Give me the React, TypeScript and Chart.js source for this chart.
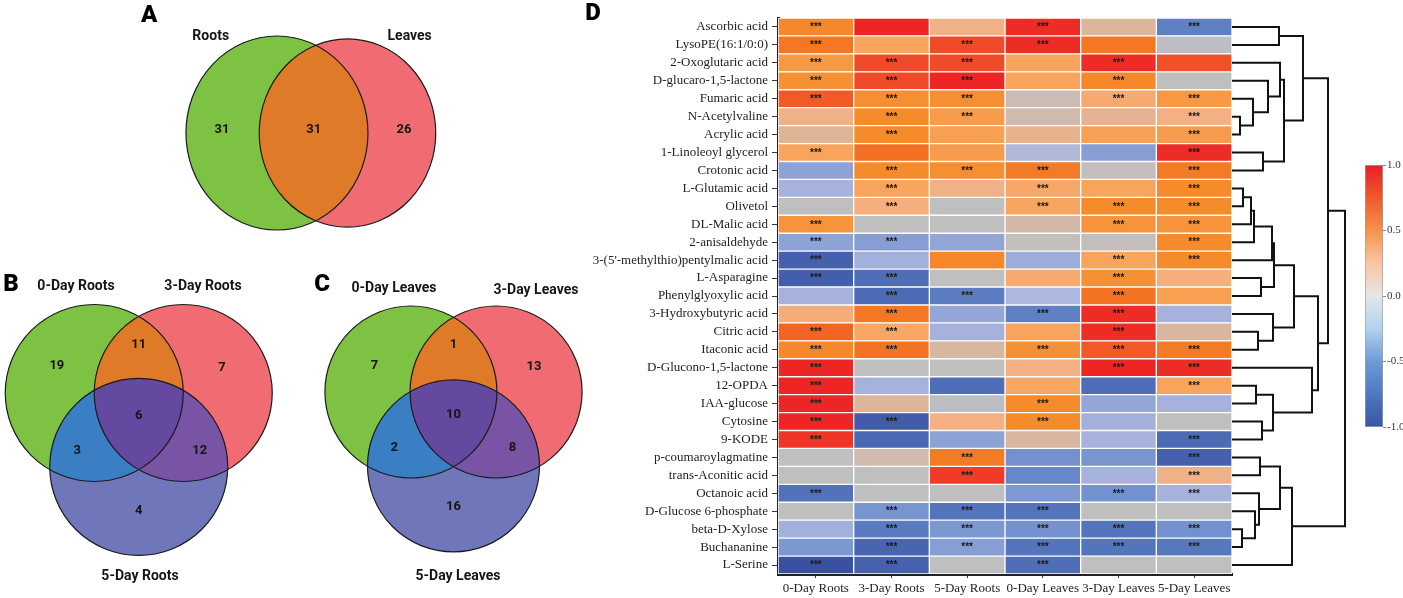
import React, { useEffect, useRef } from "react";
import { Chart, registerables } from "chart.js";
Chart.register(...registerables);

// ---------------- Venn data ----------------
const vennASets = ["Roots", "Leaves"];
const vennACounts = [31, 31, 26]; // Roots only, both, Leaves only
const vennBSets = ["0-Day Roots", "3-Day Roots", "5-Day Roots"];
const vennBCounts = [19, 11, 7, 6, 3, 12, 4]; // 0 only, 0∩3, 3 only, all, 0∩5, 3∩5, 5 only
const vennCSets = ["0-Day Leaves", "3-Day Leaves", "5-Day Leaves"];
const vennCCounts = [7, 1, 13, 10, 2, 8, 16];

// ---------------- Heatmap data ----------------
const metabolites = [
  "Ascorbic acid", "LysoPE(16:1/0:0)", "2-Oxoglutaric acid", "D-glucaro-1,5-lactone", "Fumaric acid",
  "N-Acetylvaline", "Acrylic acid", "1-Linoleoyl glycerol", "Crotonic acid", "L-Glutamic acid",
  "Olivetol", "DL-Malic acid", "2-anisaldehyde", "3-(5'-methylthio)pentylmalic acid", "L-Asparagine",
  "Phenylglyoxylic acid", "3-Hydroxybutyric acid", "Citric acid", "Itaconic acid", "D-Glucono-1,5-lactone",
  "12-OPDA", "IAA-glucose", "Cytosine", "9-KODE", "p-coumaroylagmatine",
  "trans-Aconitic acid", "Octanoic acid", "D-Glucose 6-phosphate", "beta-D-Xylose", "Buchananine", "L-Serine",
];
const conditions = ["0-Day Roots", "3-Day Roots", "5-Day Roots", "0-Day Leaves", "3-Day Leaves", "5-Day Leaves"];

const z0DayRoots = [0.62, 0.7, 0.52, 0.57, 0.8, 0.32, 0.22, 0.45, -0.45, -0.3, 0, 0.55, -0.45, -0.88, -0.9, -0.3, 0.38, 0.77, 0.62, 0.97, 0.97, 0.97, 0.97, 0.92, 0, 0, -0.78, 0, -0.32, -0.53, -1.0];
const z3DayRoots = [0.97, 0.45, 0.85, 0.85, 0.58, 0.6, 0.6, 0.73, 0.6, 0.45, 0.37, 0, -0.48, -0.32, -0.8, -0.82, 0.7, 0.43, 0.72, 0, -0.3, 0.2, -0.93, -0.83, 0.12, 0, 0, -0.55, -0.73, -0.85, -0.87];
const z5DayRoots = [0.33, 0.85, 0.85, 0.97, 0.58, 0.5, 0.48, 0.5, 0.58, 0.33, 0, 0, -0.43, 0.62, 0, -0.72, -0.42, -0.3, 0.17, 0, -0.8, -0.03, 0.35, -0.45, 0.68, 0.9, 0, -0.77, -0.53, -0.48, 0];
const z0DayLeaves = [0.95, 0.95, 0.45, 0.45, 0.08, 0.12, 0.27, -0.22, 0.68, 0.42, 0.44, 0.15, 0.02, -0.36, 0.4, -0.25, -0.7, 0.45, 0.57, 0.35, 0.43, 0.6, 0.6, 0.18, -0.58, -0.65, -0.52, -0.77, -0.57, -0.77, -0.8];
const z3DayLeaves = [0.2, 0.7, 0.95, 0.62, 0.4, 0.25, 0.47, -0.48, 0.03, 0.45, 0.6, 0.55, 0.03, 0.45, 0.57, 0.72, 0.95, 0.95, 0.8, 0.97, -0.8, -0.42, -0.33, -0.3, -0.55, -0.3, -0.58, 0, -0.77, -0.77, 0];
const z5DayLeaves = [-0.7, -0.05, 0.83, 0, 0.52, 0.35, 0.5, 0.95, 0.68, 0.6, 0.6, 0.55, 0.6, 0.6, 0.37, 0.48, -0.3, 0.17, 0.68, 0.95, 0.45, -0.3, 0, -0.82, -0.88, 0.32, -0.3, 0, -0.58, -0.75, 0];

const sig0DayRoots = [1, 1, 1, 1, 1, 0, 0, 1, 0, 0, 0, 1, 1, 1, 1, 0, 0, 1, 1, 1, 1, 1, 1, 1, 0, 0, 1, 0, 0, 0, 1];
const sig3DayRoots = [0, 0, 1, 1, 1, 1, 1, 0, 1, 1, 1, 0, 1, 0, 1, 1, 1, 1, 1, 0, 0, 0, 1, 0, 0, 0, 0, 1, 1, 1, 1];
const sig5DayRoots = [0, 1, 1, 1, 1, 1, 0, 0, 1, 0, 0, 0, 0, 0, 0, 1, 0, 0, 0, 0, 0, 0, 0, 0, 1, 1, 0, 1, 1, 1, 0];
const sig0DayLeaves = [1, 1, 0, 0, 0, 0, 0, 0, 1, 1, 1, 0, 0, 0, 0, 0, 1, 0, 1, 0, 0, 1, 1, 0, 0, 0, 0, 1, 1, 1, 1];
const sig3DayLeaves = [0, 0, 1, 1, 1, 0, 0, 0, 0, 0, 1, 1, 0, 1, 1, 1, 1, 1, 1, 1, 0, 0, 0, 0, 0, 0, 1, 0, 1, 1, 0];
const sig5DayLeaves = [1, 0, 0, 0, 1, 1, 1, 1, 1, 1, 1, 1, 1, 1, 0, 0, 0, 0, 1, 1, 1, 0, 0, 1, 1, 1, 1, 0, 1, 1, 0];

const colorbarTicks = [-1, -0.5, 0, 0.5, 1];

// Row dendrogram merges: [left node, right node, height]; leaves are row indexes, cluster k is 31 + k
const dendroMerges: [number, number, number][] = [
  [0, 1, 47], [5, 6, 8], [4, 32, 21], [3, 33, 36], [2, 34, 48], [7, 8, 31], [35, 36, 52], [31, 37, 71],
  [9, 10, 11], [39, 11, 19], [40, 12, 22], [41, 13, 40], [14, 15, 29], [42, 43, 42], [17, 18, 26],
  [16, 45, 41], [44, 46, 62], [20, 21, 24], [22, 23, 30], [48, 49, 41], [19, 50, 80], [47, 51, 86],
  [38, 52, 96], [24, 25, 28], [28, 29, 10], [27, 55, 23], [26, 56, 27], [54, 57, 48], [58, 30, 60],
  [53, 59, 113],
];

// ---------------- helpers ----------------
const zCols = [z0DayRoots, z3DayRoots, z5DayRoots, z0DayLeaves, z3DayLeaves, z5DayLeaves];
const sigCols = [sig0DayRoots, sig3DayRoots, sig5DayRoots, sig0DayLeaves, sig3DayLeaves, sig5DayLeaves];

const CELL_STOPS: [number, string][] = [
  [-1, "#3A51A2"], [-0.85, "#4865B0"], [-0.7, "#5F81C4"], [-0.55, "#7895D0"], [-0.4, "#97A9D8"],
  [-0.25, "#AEB7DD"], [0, "#BFBFBF"], [0.12, "#CFBAAE"], [0.22, "#E0B496"], [0.35, "#F4B084"],
  [0.45, "#F8A45C"], [0.6, "#F68B2B"], [0.72, "#F37322"], [0.85, "#F04B28"], [1, "#EC1C24"],
];
const BAR_STOPS: [number, string][] = [
  [-1, "#3B54A5"], [-0.75, "#4D78C0"], [-0.5, "#6D9BD6"], [-0.25, "#B0D2EE"], [0, "#E6E6E8"],
  [0.25, "#F9C6A2"], [0.5, "#F6924A"], [0.75, "#EF5A2B"], [1, "#E41F27"],
];

function hex(h: string) {
  return [parseInt(h.slice(1, 3), 16), parseInt(h.slice(3, 5), 16), parseInt(h.slice(5, 7), 16)];
}
function cellColor(v: number) {
  const s = CELL_STOPS;
  if (v <= s[0][0]) return s[0][1];
  for (let i = 1; i < s.length; i++) {
    if (v <= s[i][0]) {
      const t = (v - s[i - 1][0]) / (s[i][0] - s[i - 1][0]);
      const a = hex(s[i - 1][1]);
      const b = hex(s[i][1]);
      const c = a.map((x, k) => Math.round(x + (b[k] - x) * t));
      return `rgb(${c[0]},${c[1]},${c[2]})`;
    }
  }
  return s[s.length - 1][1];
}

const SERIF = "'Liberation Serif', 'Times New Roman', serif";
const SANS = "Roboto, 'Liberation Sans', Arial, sans-serif";

function useChart(makeChart: (c: HTMLCanvasElement) => Chart) {
  const ref = useRef<HTMLCanvasElement | null>(null);
  useEffect(() => {
    if (!ref.current) return;
    const ch = makeChart(ref.current);
    return () => ch.destroy();
  }, []);
  return ref;
}

// ---------------- Venn ----------------
type VennSpec = {
  rect: { left: number; top: number; width: number; height: number };
  origin: [number, number];
  unit: [number, number];
  circles: [number, number, number][];
  baseColors: string[];
  pairColors: string[]; // 01, 02, 12
  tripleColor?: string;
  regionPos: [number, number][];
  counts: number[];
  sets: string[];
  setPos: [number, number][];
  letter: string;
  letterPos: [number, number];
};

function VennPanel({ spec }: { spec: VennSpec }) {
  const { rect } = spec;
  const ref = useChart((canvas) => {
    const [ox, oy] = spec.origin;
    const [ux, uy] = spec.unit;
    const xmin = (rect.left - ox) / ux;
    const xmax = (rect.left + rect.width - ox) / ux;
    const ymax = (oy - rect.top) / uy;
    const ymin = (oy - rect.top - rect.height) / uy;
    const vennPlugin = {
      id: "venn",
      afterDraw(chart: any) {
        const { ctx } = chart;
        const xs = chart.scales.x;
        const ys = chart.scales.y;
        const geo = spec.circles.map(([cx, cy, r]) => {
          const px = xs.getPixelForValue(cx);
          const py = ys.getPixelForValue(cy);
          return { px, py, rx: Math.abs(xs.getPixelForValue(cx + r) - px), ry: Math.abs(ys.getPixelForValue(cy + r) - py) };
        });
        const path = (i: number) => {
          ctx.beginPath();
          ctx.ellipse(geo[i].px, geo[i].py, geo[i].rx, geo[i].ry, 0, 0, Math.PI * 2);
        };
        ctx.save();
        geo.forEach((_, i) => {
          path(i);
          ctx.fillStyle = spec.baseColors[i];
          ctx.fill();
        });
        const pairs: [number, number][] = [[0, 1], [0, 2], [1, 2]];
        pairs.forEach(([a, b], k) => {
          if (b >= geo.length) return;
          ctx.save();
          path(a);
          ctx.clip();
          path(b);
          ctx.fillStyle = spec.pairColors[k];
          ctx.fill();
          ctx.restore();
        });
        if (geo.length === 3 && spec.tripleColor) {
          ctx.save();
          path(0);
          ctx.clip();
          path(1);
          ctx.clip();
          path(2);
          ctx.fillStyle = spec.tripleColor;
          ctx.fill();
          ctx.restore();
        }
        ctx.strokeStyle = "#1b1b1b";
        ctx.lineWidth = 1.2;
        geo.forEach((_, i) => {
          path(i);
          ctx.stroke();
        });
        ctx.textAlign = "center";
        ctx.textBaseline = "middle";
        ctx.fillStyle = "#151515";
        ctx.font = `bold 13px ${SANS}`;
        spec.counts.forEach((n, i) => {
          const [x, y] = spec.regionPos[i];
          ctx.fillText(String(n), xs.getPixelForValue(x), ys.getPixelForValue(y));
        });
        ctx.font = `bold 14px ${SANS}`;
        spec.sets.forEach((s, i) => {
          const [x, y] = spec.setPos[i];
          ctx.fillText(s, xs.getPixelForValue(x), ys.getPixelForValue(y));
        });
        ctx.font = `900 24px ${SANS}`;
        ctx.fillStyle = "#000";
        ctx.fillText(spec.letter, xs.getPixelForValue(spec.letterPos[0]), ys.getPixelForValue(spec.letterPos[1]));
        ctx.restore();
      },
    };
    return new Chart(canvas, {
      type: "scatter",
      data: { datasets: [] },
      options: {
        animation: false,
        responsive: false,
        layout: { padding: 0 },
        plugins: { legend: { display: false }, tooltip: { enabled: false } },
        scales: {
          x: { type: "linear", min: xmin, max: xmax, display: false },
          y: { type: "linear", min: ymin, max: ymax, display: false },
        },
      },
      plugins: [vennPlugin],
    } as any);
  });
  return (
    <canvas
      ref={ref}
      width={rect.width}
      height={rect.height}
      style={{ position: "absolute", left: rect.left, top: rect.top, width: rect.width, height: rect.height }}
    />
  );
}

const GREEN = "#7DC243";
const RED = "#F16C72";
const BLUE = "#6F76B9";
const PAIRS3 = ["#DF7B28", "#3A7FC4", "#7953A4"];
const TRIPLE = "#6548A0";
const REGION3: [number, number][] = [
  [-0.92, 0.31], [0, 0.55], [0.935, 0.29], [0, -0.26], [-0.69, -0.65], [0.685, -0.65], [0, -1.335],
];

const specA: VennSpec = {
  rect: { left: 120, top: 0, width: 350, height: 268 },
  origin: [312, 133],
  unit: [91, 97],
  circles: [[-0.385, 0, 1], [0.39, 0, 0.97]],
  baseColors: [GREEN, RED],
  pairColors: ["#DF7B28"],
  regionPos: [[-0.99, 0.03], [0.02, 0.03], [1.01, 0.03]],
  counts: vennACounts,
  sets: vennASets,
  setPos: [[-1.113, 1.0], [1.073, 1.0]],
  letter: "A",
  letterPos: [-1.79, 1.206],
};
const specB: VennSpec = {
  rect: { left: 0, top: 268, width: 292, height: 330 },
  origin: [138.75, 393],
  unit: [89, 88.5],
  circles: [[-0.5, 0, 1], [0.5, 0, 1], [0, -0.835, 1]],
  baseColors: [GREEN, RED, BLUE],
  pairColors: PAIRS3,
  tripleColor: TRIPLE,
  regionPos: REGION3,
  counts: vennBCounts,
  sets: vennBSets,
  setPos: [[-0.705, 1.209], [0.722, 1.209], [0.014, -2.068]],
  letter: "B",
  letterPos: [-1.435, 1.22],
};
const specC: VennSpec = {
  rect: { left: 296, top: 268, width: 290, height: 330 },
  origin: [453.5, 392],
  unit: [86, 86],
  circles: [[-0.495, 0, 1], [0.495, 0, 1], [0, -0.86, 1]],
  baseColors: [GREEN, RED, BLUE],
  pairColors: PAIRS3,
  tripleColor: TRIPLE,
  regionPos: REGION3,
  counts: vennCCounts,
  sets: vennCSets,
  setPos: [[-0.692, 1.209], [0.959, 1.186], [0.052, -2.14]],
  letter: "C",
  letterPos: [-1.529, 1.244],
};

// ---------------- Heatmap ----------------
const HM = { left: 580, top: 0, width: 660, height: 598, plotLeft: 198, padTop: 18, padRight: 8, xAxisH: 24 };

function Heatmap() {
  const ref = useChart((canvas) => {
    const datasets = conditions.map((cond, c) => ({
      label: cond,
      data: metabolites.map(() => [c, c + 1]),
      backgroundColor: zCols[c].map(cellColor),
      borderColor: "#ffffff",
      borderWidth: 1,
      borderSkipped: false,
      barPercentage: 1,
      categoryPercentage: 1,
    }));
    const sigPlugin = {
      id: "sig",
      afterDatasetsDraw(chart: any) {
        const { ctx } = chart;
        const xs = chart.scales.x;
        const ys = chart.scales.y;
        ctx.save();
        ctx.font = `bold 10px 'Liberation Sans', Arial, sans-serif`;
        ctx.fillStyle = "#1a1a1a";
        ctx.textAlign = "center";
        ctx.textBaseline = "middle";
        sigCols.forEach((col, c) =>
          col.forEach((s, r) => {
            if (s) ctx.fillText("***", xs.getPixelForValue(c + 0.5), ys.getPixelForValue(r) + 0.5);
          })
        );
        ctx.font = `900 24px ${SANS}`;
        ctx.fillStyle = "#000";
        ctx.fillText("D", 13, 14);
        ctx.restore();
      },
    };
    return new Chart(canvas, {
      type: "bar",
      data: { labels: metabolites, datasets },
      options: {
        indexAxis: "y",
        animation: false,
        responsive: false,
        layout: { padding: { top: HM.padTop, right: HM.padRight, left: 0, bottom: 0 } },
        plugins: { legend: { display: false }, tooltip: { enabled: false } },
        scales: {
          x: {
            type: "linear",
            min: 0,
            max: conditions.length,
            afterBuildTicks: (s: any) => {
              s.ticks = conditions.map((_, i) => ({ value: i + 0.5 }));
            },
            afterFit: (s: any) => {
              s.height = HM.xAxisH;
            },
            ticks: {
              autoSkip: false,
              maxRotation: 0,
              padding: 3,
              color: "#222",
              font: { family: SERIF, size: 13 },
              callback: (v: any) => conditions[Math.floor(Number(v))],
            },
            grid: { drawOnChartArea: false, tickLength: 4, color: "#333" },
            border: { display: true, color: "#222", width: 3 },
          },
          y: {
            type: "category",
            stacked: true,
            afterFit: (s: any) => {
              s.width = HM.plotLeft;
            },
            ticks: { autoSkip: false, padding: 4, color: "#222", font: { family: SERIF, size: 13 } },
            grid: { drawOnChartArea: false, offset: false, tickLength: 6, color: "#333" },
            border: { display: true, color: "#222", width: 3 },
          },
        },
      },
      plugins: [sigPlugin],
    } as any);
  });
  return (
    <canvas
      ref={ref}
      width={HM.width}
      height={HM.height}
      style={{ position: "absolute", left: HM.left, top: HM.top, width: HM.width, height: HM.height }}
    />
  );
}

// ---------------- Dendrogram ----------------
function Dendrogram() {
  const ref = useChart((canvas) => {
    const nodes = metabolites.map((_, i) => ({ x: 0, y: i }));
    const datasets = dendroMerges.map(([a, b, h]) => {
      const A = nodes[a];
      const B = nodes[b];
      nodes.push({ x: h, y: (A.y + B.y) / 2 });
      return {
        data: [
          { x: A.x, y: A.y },
          { x: h, y: A.y },
          { x: h, y: B.y },
          { x: B.x, y: B.y },
        ],
        showLine: true,
        borderColor: "#111",
        borderWidth: 2,
        pointRadius: 0,
        tension: 0,
        fill: false,
        clip: false,
      };
    });
    return new Chart(canvas, {
      type: "scatter",
      data: { datasets },
      options: {
        animation: false,
        responsive: false,
        layout: { padding: { top: HM.padTop, bottom: HM.xAxisH, left: 6, right: 6 } },
        plugins: { legend: { display: false }, tooltip: { enabled: false } },
        scales: {
          x: { type: "linear", min: 0, max: 118, display: false },
          y: { type: "linear", min: -0.5, max: metabolites.length - 0.5, reverse: true, display: false },
        },
      },
    } as any);
  });
  return (
    <canvas
      ref={ref}
      width={130}
      height={598}
      style={{ position: "absolute", left: 1226, top: 0, width: 130, height: 598 }}
    />
  );
}

// ---------------- Colour bar ----------------
function ColorBar() {
  const ref = useChart((canvas) =>
    new Chart(canvas, {
      type: "bar",
      data: {
        labels: [""],
        datasets: [
          {
            data: [[colorbarTicks[0], colorbarTicks[colorbarTicks.length - 1]]],
            backgroundColor: (ctx: any) => {
              const chart = ctx.chart;
              const ys = chart.scales.y;
              if (!chart.chartArea || !ys) return "#ccc";
              const g = chart.ctx.createLinearGradient(0, ys.getPixelForValue(-1), 0, ys.getPixelForValue(1));
              BAR_STOPS.forEach(([v, col]) => g.addColorStop((v + 1) / 2, col));
              return g;
            },
            borderColor: "#a0a0a0",
            borderWidth: 1,
            borderSkipped: false,
            barPercentage: 1,
            categoryPercentage: 1,
          },
        ],
      },
      options: {
        animation: false,
        responsive: false,
        layout: { padding: { left: 12, top: 15, bottom: 18, right: 0 } },
        plugins: { legend: { display: false }, tooltip: { enabled: false } },
        scales: {
          x: { display: false },
          y: {
            position: "right",
            min: -1,
            max: 1,
            afterBuildTicks: (s: any) => {
              s.ticks = colorbarTicks.map((v) => ({ value: v }));
            },
            afterFit: (s: any) => {
              s.width = 20;
            },
            ticks: {
              padding: 1,
              color: "#333",
              font: { family: SERIF, size: 11 },
              callback: (v: any) => Number(v).toFixed(1),
            },
            grid: { drawOnChartArea: false, tickLength: 3, color: "#888" },
            border: { display: false },
          },
        },
      },
    } as any)
  );
  return (
    <canvas
      ref={ref}
      width={50}
      height={295}
      style={{ position: "absolute", left: 1353, top: 150, width: 50, height: 295 }}
    />
  );
}

export default function App() {
  return (
    <div
      style={{
        position: "absolute",
        left: 0,
        top: 0,
        width: 1403,
        height: 598,
        background: "#ffffff",
        overflow: "hidden",
      }}
    >
      <VennPanel spec={specA} />
      <VennPanel spec={specB} />
      <VennPanel spec={specC} />
      <Heatmap />
      <Dendrogram />
      <ColorBar />
    </div>
  );
}
